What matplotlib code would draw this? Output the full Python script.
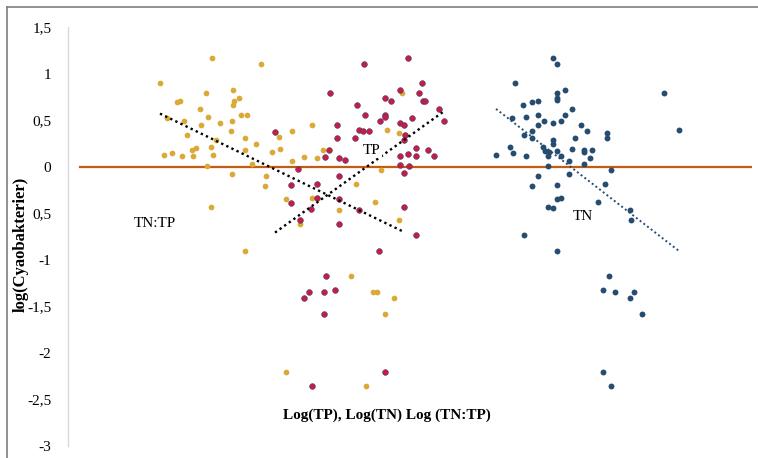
import matplotlib
matplotlib.use("Agg")
import matplotlib.pyplot as plt
from matplotlib.lines import Line2D
import numpy as np

# ---------------- data ----------------
tntp_x = [1.44, 1.93, 0.92, 1.38, 1.65, 1.09, 1.12, 1.66, 1.71, 1.65, 1.32, 1.73, 1.79, 1.40,
          0.99, 1.16, 1.64, 1.52, 1.33, 1.63, 1.19, 1.77, 1.48, 2.11, 2.24, 2.44, 1.88, 1.43,
          1.28, 1.24, 2.12, 2.04, 1.77, 0.96, 1.04, 1.14, 1.25, 1.45, 2.24, 2.36, 2.49, 1.84,
          1.39, 1.64, 1.98, 1.97, 2.18, 2.44, 1.43, 2.32, 3.34, 3.19, 3.31, 2.55, 3.13, 2.88,
          2.71, 3.07, 3.31, 1.77, 2.83, 3.05, 3.09, 3.26, 3.17, 2.18, 2.98]
tntp_y = [1.17, 1.10, 0.90, 0.79, 0.82, 0.69, 0.71, 0.71, 0.74, 0.66, 0.62, 0.56, 0.56, 0.53,
          0.52, 0.49, 0.49, 0.47, 0.45, 0.38, 0.34, 0.31, 0.29, 0.32, 0.38, 0.45, 0.24, 0.21,
          0.20, 0.18, 0.19, 0.16, 0.18, 0.12, 0.15, 0.11, 0.11, 0.12, 0.06, 0.10, 0.09, 0.03,
          0.01, -0.08, -0.10, -0.21, -0.35, -0.34, -0.43, -0.62, 0.79, 0.39, 0.36, 0.18, -0.04, -0.19,
          -0.47, -0.38, -0.57, -0.91, -1.17, -1.35, -1.35, -1.41, -1.58, -2.21, -2.36]

tp_x = [2.07, 2.30, 2.49, 2.23, 2.23, 2.49, 2.43, 2.32, 3.40, 2.96, 3.54, 2.62, 3.32, 3.17,
        3.23, 3.51, 3.55, 3.57, 2.89, 3.71, 2.97, 3.17, 3.17, 3.12, 3.44, 3.76, 3.32, 3.36,
        2.69, 2.91, 2.95, 3.01, 2.69, 2.87, 3.37, 3.36, 3.48, 3.60, 2.61, 2.57, 2.71, 2.77,
        3.32, 3.40, 3.48, 3.66, 3.32, 3.41, 2.71, 3.36, 2.71, 2.91, 3.36, 2.71, 3.48, 3.11,
        2.58, 2.41, 2.36, 2.56, 2.67, 2.56, 3.17, 2.44]
tp_y = [0.37, -0.03, -0.19, -0.20, -0.39, -0.34, -0.45, -0.57, 1.17, 1.10, 0.90, 0.79, 0.82, 0.74,
        0.71, 0.79, 0.71, 0.71, 0.66, 0.62, 0.56, 0.56, 0.53, 0.49, 0.52, 0.49, 0.47, 0.45,
        0.45, 0.39, 0.38, 0.38, 0.31, 0.31, 0.34, 0.29, 0.20, 0.18, 0.18, 0.10, 0.09, 0.07,
        0.11, 0.14, 0.11, 0.11, 0.02, 0.01, -0.10, -0.07, -0.35, -0.47, -0.43, -0.62, -0.73, -0.91,
        -1.17, -1.35, -1.41, -1.35, -1.32, -1.58, -2.21, -2.36]

tn_x = [4.85, 4.89, 4.47, 5.96, 4.97, 4.89, 4.89, 4.89, 4.64, 4.70, 4.55, 5.04, 4.70, 4.97,
        4.58, 4.44, 4.76, 4.85, 4.93, 4.70, 5.13, 6.11, 4.64, 5.19, 5.39, 5.39, 4.56, 4.64,
        5.07, 4.85, 4.85, 4.42, 4.45, 4.75, 4.77, 5.04, 5.16, 5.16, 5.24, 4.81, 4.89, 4.28,
        4.58, 4.80, 4.93, 5.22, 5.01, 5.16, 4.80, 5.43, 5.01, 4.70, 4.64, 4.89, 5.37, 4.89,
        4.93, 4.80, 4.85, 5.30, 5.62, 5.63, 4.56, 4.89, 5.41, 5.35, 5.47, 5.66, 5.62, 5.74,
        5.35, 5.43]
tn_y = [1.17, 1.10, 0.90, 0.79, 0.82, 0.79, 0.74, 0.72, 0.69, 0.71, 0.66, 0.62, 0.56, 0.56,
        0.53, 0.52, 0.49, 0.47, 0.49, 0.45, 0.45, 0.39, 0.38, 0.38, 0.36, 0.31, 0.34, 0.31,
        0.31, 0.29, 0.24, 0.21, 0.15, 0.21, 0.17, 0.19, 0.18, 0.16, 0.18, 0.16, 0.17, 0.12,
        0.11, 0.11, 0.11, 0.09, 0.06, 0.03, 0.01, -0.04, -0.08, -0.10, -0.21, -0.20, -0.19, -0.35,
        -0.34, -0.43, -0.44, -0.38, -0.47, -0.57, -0.73, -0.91, -1.17, -1.32, -1.35, -1.35, -1.41, -1.58,
        -2.21, -2.36]

# linear trend lines (slope, intercept)
trend_tntp = (-0.521, 1.049)
trend_tp = (0.771, -2.304)
trend_tn = (-0.834, 4.190)

y_ticks = [-3, -2.5, -2, -1.5, -1, -0.5, 0, 0.5, 1, 1.5]
y_ticklabels = ["-3", "-2,5", "-2", "-1,5", "-1", "0,5", "0", "0,5", "1", "1,5"]

labels = {"TN:TP": (0.87, -0.61), "TP": (3.04, 0.17), "TN": (5.15, -0.54)}
x_label = "Log(TP), Log(TN) Log (TN:TP)"
y_label = "log(Cyaobakterier)"

# ---------------- style ----------------
plt.rcParams['font.family'] = ['Liberation Serif', 'DejaVu Serif']
c_yel = "#DBA937"
c_red = "#C81E3C"
c_red_edge = "#463A86"
c_blue = "#264D70"
c_zero = "#C55A11"

W, H = 758, 458
fig = plt.figure(figsize=(W / 100, H / 100), dpi=100)
ax = fig.add_axes([68 / W, 1 - 446 / H, 684 / W, 419 / H])
ax.set_xlim(0, 6.84)
ax.set_ylim(-3, 1.5)

ax.axhline(0, xmin=0.12 / 6.84, xmax=1, color=c_zero, lw=1.6, zorder=1)

ax.scatter(tntp_x, tntp_y, s=17, color=c_yel, linewidths=0, zorder=2)
ax.scatter(tp_x, tp_y, s=17, color=c_red, edgecolors=c_red_edge, linewidths=0.4, zorder=3)
ax.scatter(tn_x, tn_y, s=18, color=c_blue, linewidths=0, zorder=3)

def trend(xs, coef, color, lw):
    xx = np.array([min(xs), max(xs)])
    ax.plot(xx, coef[0] * xx + coef[1], color=color, lw=lw,
            linestyle=(0, (1, 1.4)), dash_capstyle='butt', zorder=4)

trend(tntp_x, trend_tntp, "black", 1.7)
trend(tp_x, trend_tp, "black", 1.7)
trend(tn_x, trend_tn, c_blue, 1.4)

for txt, (lx, ly) in labels.items():
    ax.text(lx, ly, txt, fontsize=11, ha='center', va='center', zorder=5,
            bbox=dict(facecolor='white', edgecolor='none', pad=0.5) if txt == "TP" else None)

ax.set_yticks(y_ticks)
ax.set_yticklabels(y_ticklabels, fontsize=11)
ax.set_xticks([])
ax.tick_params(axis='y', length=0, pad=12)
for s in ["top", "right", "bottom"]:
    ax.spines[s].set_visible(False)
ax.spines["left"].set_color("#D9D9D9")
ax.spines["left"].set_linewidth(1.0)

fig.text(387 / W, 1 - 415 / H, x_label, fontsize=11, fontweight='bold', ha='center', va='center')
fig.text(21 / W, 1 - 244 / H, y_label, fontsize=12, fontweight='bold', ha='center', va='center',
         rotation=90)

# outer frame
fig.add_artist(Line2D([7 / W, 7 / W], [0, 1 - 7 / H], transform=fig.transFigure,
                      color="#7F7F7F", lw=1.2))
fig.add_artist(Line2D([7 / W, 1], [1 - 7 / H, 1 - 7 / H], transform=fig.transFigure,
                      color="#7F7F7F", lw=1.2))

fig.savefig("out.png", dpi=100)
